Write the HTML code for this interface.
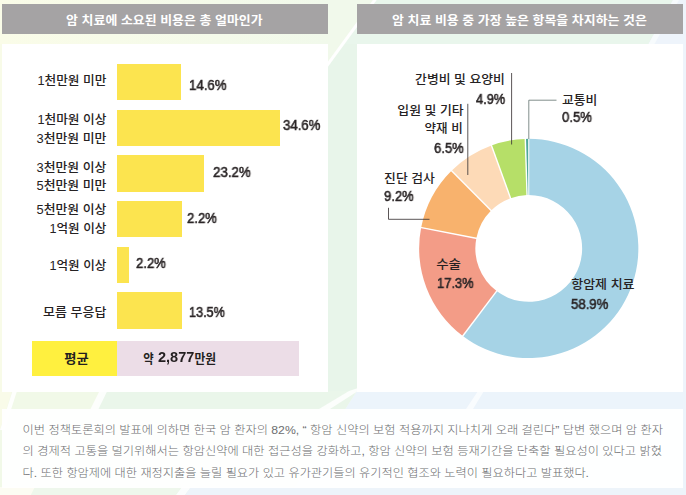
<!DOCTYPE html>
<html lang="ko"><head><meta charset="utf-8"><title>암 치료 비용 설문</title>
<style>
html,body{margin:0;padding:0;background:#f3f9ef;}
body{width:686px;height:495px;overflow:hidden;position:relative;font-family:"Liberation Sans","Noto Sans CJK KR",sans-serif;}
#bg,#fg{position:absolute;left:0;top:0;}
.hd{position:absolute;top:4px;height:29.5px;background:#a5a3a4;}
.panel{position:absolute;background:#fff;}
.bar{position:absolute;left:117.3px;background:#fce44f;}
.p{position:absolute;font-weight:400;-webkit-text-stroke:0.55px #2b2627;font-size:14.3px;line-height:16px;color:#2b2627;white-space:nowrap;transform-origin:0 0;will-change:transform;}
.b{font-weight:700;font-size:14.4px;-webkit-text-stroke:0;color:#231f20}
#fg text{font-family:"Liberation Sans","Noto Sans CJK KR",sans-serif;}
</style></head><body>
<svg id="bg" width="686" height="495" viewBox="0 0 686 495">
<rect width="686" height="495" fill="#f3f9ef"/>
<rect x="0" y="44" width="3" height="365" fill="#f8fbe8"/>
<rect x="328" y="0" width="358" height="44" fill="#e9f6ec"/>
<rect x="328" y="44" width="29" height="348" fill="#e8f5ea"/>
<polygon points="328,0 374,0 328,64" fill="#f1f9eb"/>
<polygon points="372.900,0 376.700,0 328,66.800 328,61.600" fill="#fff"/>
<polygon points="673,0 686,0 686,495 682.700,495 682.700,44 648.500,44" fill="#eef4fb"/>
<polygon points="673,0 679,0 654.500,44 648.500,44" fill="#f7fbfd"/>
<polygon points="0,391 357,391 290,495 0,495" fill="#eaf6ea"/>
<polygon points="0,391 102,391 68,495 0,495" fill="#f1f9e8"/>
<polygon points="357,391 686,391 686,495 290,495" fill="#ecf4fb"/>
<polygon points="0,391 12,391 0,430" fill="#f9fbe9"/>
<polygon points="12.500,391 17,391 4.500,430 0,430" fill="#fff" opacity=".9"/>
<polygon points="99.500,391 107.300,391 98.500,409 90.500,409" fill="#fff" opacity=".85"/>
<polygon points="349,391 358,388 358,391 330,409 319,409" fill="#fff" opacity=".85"/>
<polygon points="478,391 484,391 473,409 466,409" fill="#fff" opacity=".7"/>
<polygon points="0,487 35,487 31,495 0,495" fill="#fcfcf3"/>
<polygon points="35,487 182,487 176,495 31,495" fill="#eef7ec"/>
<polygon points="182,487 191,487 185,495 176,495" fill="#fbfdfd"/>
<polygon points="191,487 686,487 686,495 185,495" fill="#edf4fa"/>
</svg>
<div style="position:absolute;left:0;top:0;width:328px;height:44px;background:linear-gradient(90deg,#fafce8,#f1f9eb)"></div>
<div class="hd" style="left:2.300px;width:325.700px"></div>
<div class="hd" style="left:357px;width:325.600px"></div>
<div class="panel" style="left:2.300px;top:44px;width:325.700px;height:347.700px"></div>
<div class="panel" style="left:357px;top:44px;width:325.700px;height:347.800px"></div>
<div class="panel" style="left:2.300px;top:409px;width:680.400px;height:78.500px;background:rgba(255,255,255,.92)"></div>
<div class="bar" style="top:64.0px;height:36.3px;width:64.1px"></div><div class="bar" style="top:109.5px;height:36.5px;width:162.5px"></div><div class="bar" style="top:155.4px;height:36.3px;width:86.7px"></div><div class="bar" style="top:200.7px;height:36.4px;width:64.5px"></div><div class="bar" style="top:246.7px;height:36.2px;width:11.4px"></div><div class="bar" style="top:292.2px;height:36.7px;width:64.5px"></div>
<div class="panel" style="left:32.300px;top:341px;width:85.100px;height:35.4px;background:#fff03f"></div>
<div class="panel" style="left:117.400px;top:341px;width:181.600px;height:35.4px;background:#ecdde7"></div>
<svg id="fg" width="686" height="495" viewBox="0 0 686 495">
<path d="M528.75 138.85A109.60 109.60 0 1 1 462.79 335.98L496.61 291.10A53.40 53.40 0 1 0 528.75 195.05Z" fill="#a6d3e6"/><path d="M462.79 335.98A109.60 109.60 0 0 1 421.16 227.54L476.33 238.26A53.40 53.40 0 0 0 496.61 291.10Z" fill="#f39c87"/><path d="M421.16 227.54A109.60 109.60 0 0 1 451.52 170.68L491.12 210.56A53.40 53.40 0 0 0 476.33 238.26Z" fill="#f8b26d"/><path d="M451.52 170.68A109.60 109.60 0 0 1 491.44 145.39L510.57 198.24A53.40 53.40 0 0 0 491.12 210.56Z" fill="#fddab7"/><path d="M491.44 145.39A109.60 109.60 0 0 1 525.31 138.90L527.07 195.08A53.40 53.40 0 0 0 510.57 198.24Z" fill="#b6df68"/><path d="M525.31 138.90A109.60 109.60 0 0 1 528.75 138.85L528.75 195.05A53.40 53.40 0 0 0 527.07 195.08Z" fill="#4fa79b"/>
<line x1="528.75" y1="196.05" x2="528.75" y2="137.85" stroke="#fff" stroke-width="1.0"/><line x1="497.21" y1="290.30" x2="462.19" y2="336.78" stroke="#fff" stroke-width="1.4"/><line x1="477.31" y1="238.45" x2="420.18" y2="227.35" stroke="#fff" stroke-width="1.4"/><line x1="491.83" y1="211.27" x2="450.82" y2="169.97" stroke="#fff" stroke-width="1.4"/><line x1="510.91" y1="199.18" x2="491.10" y2="144.45" stroke="#fff" stroke-width="1.4"/><line x1="527.10" y1="196.08" x2="525.28" y2="137.90" stroke="#fff" stroke-width="1.4"/>
<g fill="none" stroke="#3d3839" stroke-width="0.85">
<path d="M511.600 73V144.500"/>
<path d="M467.800 103.800V175"/>
<path d="M388.500 207.800V219.300H429.500"/>
<path d="M528.800 139V100.200H556.500" stroke="#62726f" stroke-width="0.8"/>
</g>
<g fill="#fff" font-size="12" font-weight="700">
<text x="66.1" y="24.5" textLength="196.5" lengthAdjust="spacingAndGlyphs">암 치료에 소요된 비용은 총 얼마인가</text>
<text x="392.1" y="24.5" textLength="254.7" lengthAdjust="spacingAndGlyphs">암 치료 비용 중 가장 높은 항목을 차지하는 것은</text>
</g>
<g fill="#262223" font-size="12.2" font-weight="500">
<text x="37.4" y="84.95" textLength="69.0" lengthAdjust="spacingAndGlyphs">1천만원 미만</text>
<text x="37.4" y="124.45" textLength="69.0" lengthAdjust="spacingAndGlyphs">1천마원 이상</text>
<text x="36.5" y="143.15" textLength="69.9" lengthAdjust="spacingAndGlyphs">3천만원 미만</text>
<text x="36.5" y="171.85" textLength="69.9" lengthAdjust="spacingAndGlyphs">3천만원 이상</text>
<text x="36.5" y="190.00" textLength="69.9" lengthAdjust="spacingAndGlyphs">5천만원 미만</text>
<text x="36.5" y="214.15" textLength="69.9" lengthAdjust="spacingAndGlyphs">5천만원 이상</text>
<text x="49.5" y="232.82" textLength="56.9" lengthAdjust="spacingAndGlyphs">1억원 이상</text>
<text x="49.5" y="270.02" textLength="56.9" lengthAdjust="spacingAndGlyphs">1억원 이상</text>
<text x="43.1" y="317.04" textLength="63.3" lengthAdjust="spacingAndGlyphs">모름 무응답</text>
</g>
<g fill="#231f20" font-size="12.8" font-weight="700">
<text x="64.3" y="363.2" textLength="24.4" lengthAdjust="spacingAndGlyphs">평균</text>
<text x="143.3" y="363.2" textLength="10.4" lengthAdjust="spacingAndGlyphs">약</text>
<text x="194.4" y="363.2" textLength="21.6" lengthAdjust="spacingAndGlyphs">만원</text>
</g>
<g fill="#262223" font-size="12.4" font-weight="500">
<text x="415.1" y="84.19" textLength="89.8" lengthAdjust="spacingAndGlyphs">간병비 및 요양비</text>
<text x="397.3" y="114.79" textLength="66.4" lengthAdjust="spacingAndGlyphs">입원 및 기타</text>
<text x="424.5" y="133.05" textLength="38.2" lengthAdjust="spacingAndGlyphs">약재 비</text>
<text x="384.1" y="183.04" textLength="50.8" lengthAdjust="spacingAndGlyphs">진단 검사</text>
<text x="562.0" y="104.94" textLength="35.4" lengthAdjust="spacingAndGlyphs">교통비</text>
<text x="436.2" y="268.76" textLength="24.8" lengthAdjust="spacingAndGlyphs">수술</text>
<text x="571.2" y="289.38" textLength="63.4" lengthAdjust="spacingAndGlyphs">항암제 치료</text>
</g>
<g fill="#6d6e70" font-size="11.5" font-weight="300">
<text x="22.6" y="433.7" textLength="640.4" lengthAdjust="spacingAndGlyphs">이번 정책토론회의 발표에 의하면 한국 암 환자의 82%, “ 항암 신약의 보험 적용까지 지나치게 오래 걸린다” 답변 했으며 암 환자</text>
<text x="22.6" y="455.3" textLength="639.4" lengthAdjust="spacingAndGlyphs">의 경제적 고통을 덜기위해서는 항암신약에 대한 접근성을 강화하고, 항암 신약의 보험 등재기간을 단축할 필요성이 있다고 밝혔</text>
<text x="22.6" y="476.8" textLength="566.4" lengthAdjust="spacingAndGlyphs">다. 또한 항암제에 대한 재정지출을 늘릴 필요가 있고 유가관기들의 유기적인 협조와 노력이 필요하다고 발표했다.</text>
</g>
</svg>
<span class="p" style="left:188.54px;top:76.95px;transform:scaleX(0.929)">14.6%</span><span class="p" style="left:282.75px;top:116.95px;transform:scaleX(0.924)">34.6%</span><span class="p" style="left:213.18px;top:164.35px;transform:scaleX(0.933)">23.2%</span><span class="p" style="left:187.19px;top:210.25px;transform:scaleX(0.918)">2.2%</span><span class="p" style="left:136.49px;top:255.35px;transform:scaleX(0.918)">2.2%</span><span class="p" style="left:189.09px;top:303.55px;transform:scaleX(0.886)">13.5%</span><span class="p" style="left:475.86px;top:90.75px;transform:scaleX(0.897)">4.9%</span><span class="p" style="left:433.69px;top:139.65px;transform:scaleX(0.915)">6.5%</span><span class="p" style="left:383.74px;top:188.25px;transform:scaleX(0.914)">9.2%</span><span class="p" style="left:561.74px;top:109.45px;transform:scaleX(0.920)">0.5%</span><span class="p" style="left:436.96px;top:274.85px;transform:scaleX(0.906)">17.3%</span><span class="p" style="left:570.92px;top:296.05px;transform:scaleX(0.922)">58.9%</span><span class="p b" style="left:157.70px;top:349.41px;transform:scaleX(1.009)">2,877</span>
</body></html>
